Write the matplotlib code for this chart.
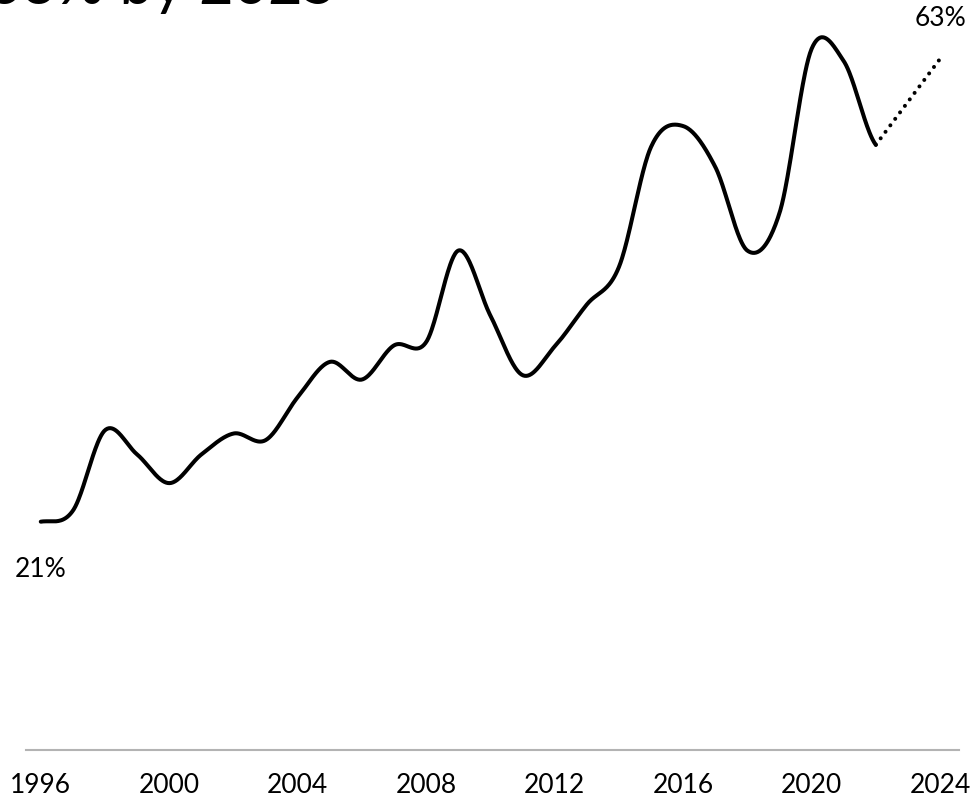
import numpy as np
import matplotlib
matplotlib.use("Agg")
import matplotlib.pyplot as plt

plt.rcParams['font.family'] = ['Lato', 'DejaVu Sans']

# yearly share, in percent
years = list(range(1996, 2023))
share = [21.0, 22.0, 29.3, 27.1, 24.5, 27.1, 29.0, 28.4, 32.3, 35.5,
         33.9, 37.0, 37.3, 45.6, 39.7, 34.3, 36.9, 40.7, 44.1, 55.0,
         56.9, 53.2, 45.6, 49.0, 63.9, 62.8, 55.2]

# projection to the end of the period
proj_years = [2022, 2024]
proj_share = [55.2, 63.0]

tick_years = [1996, 2000, 2004, 2008, 2012, 2016, 2020, 2024]
tick_labels = [str(y) for y in tick_years]

title = "63% by 2025"
first_label = "21%"
last_label = "63%"


def cardinal(x, y, n=40):
    # cubic hermite through every point, tangents from the neighbours
    x = np.asarray(x, dtype=float)
    y = np.asarray(y, dtype=float)
    yp = np.concatenate([[y[0]], y, [y[-1]]])
    m = (yp[2:] - yp[:-2]) / 2
    xs, ys = [], []
    for i in range(len(x) - 1):
        t = np.linspace(0, 1, n, endpoint=False)
        h00 = 2 * t**3 - 3 * t**2 + 1
        h10 = t**3 - 2 * t**2 + t
        h01 = -2 * t**3 + 3 * t**2
        h11 = t**3 - t**2
        xs.append(x[i] + t * (x[i + 1] - x[i]))
        ys.append(h00 * y[i] + h10 * m[i] + h01 * y[i + 1] + h11 * m[i + 1])
    xs.append([x[-1]])
    ys.append([y[-1]])
    return np.concatenate(xs), np.concatenate(ys)


W, H = 980, 803
fig = plt.figure(figsize=(W / 100, H / 100), dpi=100)
ax = fig.add_axes([26 / W, (H - 750.7) / H, (959 - 26) / W, 750.7 / H])
ax.set_xlim(1995.54, 2024.59)
ax.set_ylim(0.31, 68.43)

sx, sy = cardinal(years, share)
ax.plot(sx, sy, color='black', lw=2.9, solid_capstyle='round', clip_on=False)
ax.plot(proj_years, proj_share, color='black', lw=2.9,
        linestyle=(0, (0.01, 2.0)), dash_capstyle='round', clip_on=False)

ax.annotate(first_label, (years[0], share[0]), xytext=(0, -34),
            textcoords='offset points', ha='center', va='center', fontsize=19)
ax.annotate(last_label, (proj_years[-1], proj_share[-1]), xytext=(0, 29.5),
            textcoords='offset points', ha='center', va='center', fontsize=19)

for s in ['top', 'left', 'right']:
    ax.spines[s].set_visible(False)
ax.spines['bottom'].set_color('#b3b3b3')
ax.spines['bottom'].set_linewidth(1.5)
ax.set_yticks([])
ax.set_xticks(tick_years)
ax.set_xticklabels(tick_labels)
ax.tick_params(axis='x', length=0, pad=16, labelsize=19)

fig.text(337 / W, 1 - 4 / H, title, ha='right', va='baseline', fontsize=43)

fig.savefig('out.png', dpi=100)
